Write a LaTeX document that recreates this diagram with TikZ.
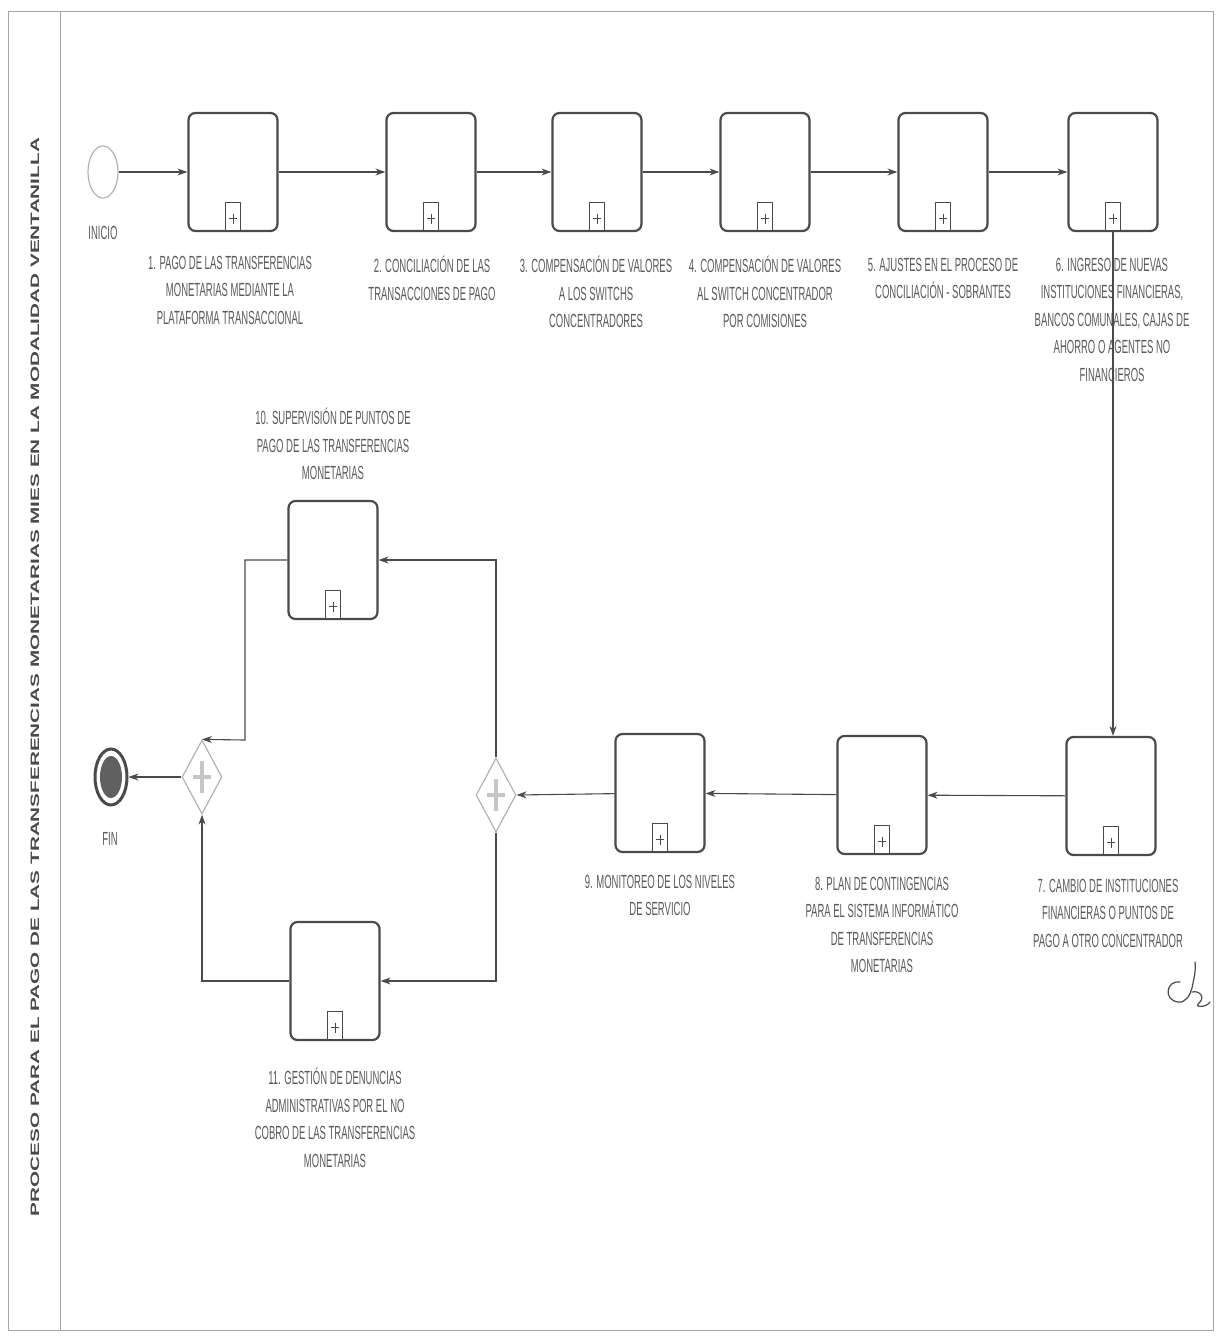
\documentclass[tikz,border=0pt]{standalone}
\usepackage{fontspec}
\setmainfont{Liberation Sans}
\newfontfamily\lblfont[FakeStretch=0.5]{Liberation Sans}
\usetikzlibrary{shapes.geometric,arrows.meta,calc}
\definecolor{ink}{HTML}{4A4A4A}
\definecolor{txt}{HTML}{5A5A5A}
\begin{document}
\begin{tikzpicture}[x=1pt,y=-1pt,
  task/.style={draw=ink,line width=2.2pt,rounded corners=7pt,fill=white,minimum width=89pt,minimum height=118pt,inner sep=0pt},
  mk/.style={draw=ink,line width=1.1pt,fill=white,minimum width=15pt,minimum height=28pt,inner sep=0pt},
  gw/.style={diamond,draw=gray!60,line width=1.2pt,fill=white,minimum width=40pt,minimum height=74pt,inner sep=0pt},
  lbl/.style={align=center,text=txt,inner sep=0pt,anchor=north,font=\lblfont\fontsize{19}{27.5}\selectfont},
  flow/.style={draw=ink,line width=1.1pt,-{Stealth[length=10pt,width=7pt]}},
  ev/.style={ellipse,minimum width=30pt,minimum height=52pt,inner sep=0pt}
]
\useasboundingbox (0,0) rectangle (1215,1337);
% lane
\draw[gray!70,line width=1pt] (8,12) rectangle (1213,1330);
\draw[gray!70,line width=1pt] (60,12) -- (60,1330);
\node[rotate=90,text=ink] (title) at (35,677) {\resizebox{1078pt}{8.5pt}{\bfseries PROCESO PARA EL PAGO DE LAS TRANSFERENCIAS MONETARIAS MIES EN LA MODALIDAD VENTANILLA}};

% events
\node[ev,draw=gray!60,line width=1.2pt] (start) at (103,172) {};
\node[lbl] (lstart) at (103,226) {INICIO};
\node[ev,draw=ink,line width=3pt,fill=white,minimum width=32pt,minimum height=56pt] (end) at (111,777) {};
\node[ellipse,fill=gray!75!black,minimum width=22pt,minimum height=42pt,inner sep=0pt] (endin) at (111,777) {};
\node[lbl] (lend) at (110,832) {FIN};

% tasks
\node[task] (t1) at (233,172) {};
\node[task] (t2) at (431,172) {};
\node[task] (t3) at (597,172) {};
\node[task] (t4) at (765,172) {};
\node[task] (t5) at (943,172) {};
\node[task] (t6) at (1113,172) {};
\node[task] (t7) at (1111,796) {};
\node[task] (t8) at (882,795) {};
\node[task] (t9) at (660,793) {};
\node[task] (t10) at (333,560) {};
\node[task] (t11) at (335,981) {};

\foreach \t in {t1,t2,t3,t4,t5,t6,t7,t8,t9,t10,t11}{
  \node[mk,anchor=south] (\t m) at ($(\t.south)+(0,-1)$) {};
  \draw[ink,line width=1pt] ($(\t m.center)+(-4,2)$) -- ($(\t m.center)+(4,2)$);
  \draw[ink,line width=1pt] ($(\t m.center)+(0,-3)$) -- ($(\t m.center)+(0,7)$);
}

% gateways
\node[gw] (gwR) at (496,795) {};
\node[gw] (gwL) at (202,777) {};
\foreach \g in {gwR,gwL}{
  \draw[gray!45,line width=4pt] ($(\g.center)+(-9,0)$) -- ($(\g.center)+(9,0)$);
  \draw[gray!45,line width=4pt] ($(\g.center)+(0,-16)$) -- ($(\g.center)+(0,16)$);
}

% labels
\node[lbl] (l1) at (230,256) {1. PAGO DE LAS TRANSFERENCIAS\\MONETARIAS MEDIANTE LA\\PLATAFORMA TRANSACCIONAL};
\node[lbl] (l2) at (432,256) {2. CONCILIACIÓN DE LAS\\TRANSACCIONES DE PAGO};
\node[lbl] (l3) at (596,256) {3. COMPENSACIÓN DE VALORES\\A LOS SWITCHS\\CONCENTRADORES};
\node[lbl] (l4) at (765,256) {4. COMPENSACIÓN DE VALORES\\AL SWITCH CONCENTRADOR\\POR COMISIONES};
\node[lbl] (l5) at (943,258) {5. AJUSTES EN EL PROCESO DE\\CONCILIACIÓN - SOBRANTES};
\node[lbl] (l6) at (1112,258) {6. INGRESO DE NUEVAS\\INSTITUCIONES FINANCIERAS,\\BANCOS COMUNALES, CAJAS DE\\AHORRO O AGENTES NO\\FINANCIEROS};
\node[lbl] (l10) at (333,408) {10. SUPERVISIÓN DE PUNTOS DE\\PAGO DE LAS TRANSFERENCIAS\\MONETARIAS};
\node[lbl] (l7) at (1108,879) {7. CAMBIO DE INSTITUCIONES\\FINANCIERAS O PUNTOS DE\\PAGO A OTRO CONCENTRADOR};
\node[lbl] (l8) at (882,877) {8. PLAN DE CONTINGENCIAS\\PARA EL SISTEMA INFORMÁTICO\\DE TRANSFERENCIAS\\MONETARIAS};
\node[lbl] (l9) at (660,875) {9. MONITOREO DE LOS NIVELES\\DE SERVICIO};
\node[lbl] (l11) at (335,1068) {11. GESTIÓN DE DENUNCIAS\\ADMINISTRATIVAS POR EL NO\\COBRO DE LAS TRANSFERENCIAS\\MONETARIAS};

% flows
\draw[flow] (start) -- (t1);
\draw[flow] (t1) -- (t2);
\draw[flow] (t2) -- (t3);
\draw[flow] (t3) -- (t4);
\draw[flow] (t4) -- (t5);
\draw[flow] (t5) -- (t6);
\draw[flow] (t6m.south) -- (t6m.south |- t7.north);
\draw[flow] (t7) -- (t8);
\draw[flow] (t8) -- (t9);
\draw[flow] (t9) -- (gwR.east);
\draw[flow] (gwR.north) |- (t10.east);
\draw[flow] (gwR.south) |- (t11.east);
\coordinate (k1) at (245,740);
\draw[flow] (t10.west) -| (k1) -- (gwL.north);
\draw[flow] (t11.west) -| (gwL.south);
\draw[flow] (gwL.west) -- (end.east);

% handwritten mark
\draw[ink,line width=1.2pt,line cap=round] (1180,982) .. controls (1166,980) and (1163,1000) .. (1178,1002)
  .. controls (1186,1003) and (1190,995) .. (1192,988) .. controls (1194,978) and (1196,970) .. (1195,962);
\draw[ink,line width=1.2pt,line cap=round] (1192,992) .. controls (1200,990) and (1206,998) .. (1198,1004)
  .. controls (1194,1007) and (1206,1008) .. (1210,1002);
\end{tikzpicture}
\end{document}
